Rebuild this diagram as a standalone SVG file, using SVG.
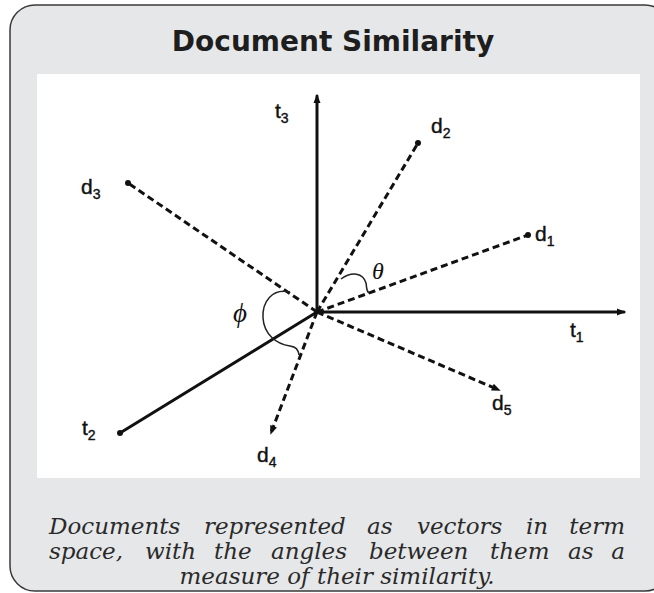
<svg xmlns="http://www.w3.org/2000/svg" width="654" height="593" viewBox="0 0 654 593">
<defs>
<style>
.card{fill:#e6e7e9;stroke:#3a3a3a;stroke-width:1.5}
.title{font-family:"DejaVu Sans",sans-serif;font-weight:bold;font-size:28px;fill:#1e1e1e;text-anchor:middle}
.cap{font-family:"DejaVu Serif",serif;font-style:italic;font-size:23px;fill:#2a2a2a}
.axis{stroke:#111;stroke-width:3;fill:none;stroke-linecap:round}
.dash{stroke:#111;stroke-width:3;fill:none;stroke-dasharray:7 4}
.arc{stroke:#222;stroke-width:1.5;fill:none}
.lbl{font-family:"Liberation Sans",Arial,sans-serif;font-size:21px;fill:#111;stroke:#111;stroke-width:0.4}
.sub{font-size:14px}
.ang{font-family:"Liberation Serif",serif;font-style:italic;font-size:24px;fill:#111}
</style>
<marker id="ah" viewBox="0 0 10 10" refX="8" refY="5" markerWidth="3" markerHeight="3" orient="auto" markerUnits="strokeWidth">
<path d="M0,1 L10,5 L0,9 z" fill="#111"/>
</marker>
<marker id="dot" viewBox="0 0 10 10" refX="5" refY="5" markerWidth="2" markerHeight="2" markerUnits="strokeWidth">
<circle cx="5" cy="5" r="5" fill="#111"/>
</marker>
</defs>
<rect class="card" x="10" y="5" width="660" height="586" rx="25"/>
<text class="title" x="333" y="51">Document Similarity</text>
<rect x="37" y="74" width="603" height="404" fill="#ffffff"/>
<g id="connectors">
<line class="axis" x1="317" y1="312" x2="317" y2="96" marker-end="url(#ah)"/>
<line class="axis" x1="317" y1="312" x2="624" y2="312" marker-end="url(#ah)"/>
<line class="axis" x1="317" y1="312" x2="120" y2="433" marker-end="url(#dot)"/>
<line class="dash" x1="317" y1="312" x2="528" y2="235" marker-end="url(#dot)"/>
<line class="dash" x1="317" y1="312" x2="418" y2="143" marker-end="url(#dot)"/>
<line class="dash" x1="317" y1="312" x2="128" y2="183" marker-end="url(#dot)"/>
<line class="dash" x1="317" y1="312" x2="271" y2="433" marker-end="url(#ah)"/>
<line class="dash" x1="317" y1="312" x2="499" y2="390" marker-end="url(#ah)"/>
<path class="arc" d="M341,279 C352,271 363,273 366,283 C367,288 366,291 369,293"/>
<path class="arc" d="M290,292 C272,288 262,302 263,318 C264,334 276,344 290,346 C296,347 298,349 299,355"/>
</g>
<g id="t3"><text class="lbl" x="275" y="118">t<tspan class="sub" dy="5">3</tspan></text></g>
<g id="t1"><text class="lbl" x="570" y="337">t<tspan class="sub" dy="5">1</tspan></text></g>
<g id="t2"><text class="lbl" x="82" y="435">t<tspan class="sub" dy="5">2</tspan></text></g>
<g id="d1"><text class="lbl" x="535" y="241">d<tspan class="sub" dy="5">1</tspan></text></g>
<g id="d2"><text class="lbl" x="431" y="133">d<tspan class="sub" dy="5">2</tspan></text></g>
<g id="d3"><text class="lbl" x="81" y="194">d<tspan class="sub" dy="5">3</tspan></text></g>
<g id="d4"><text class="lbl" x="257" y="462">d<tspan class="sub" dy="5">4</tspan></text></g>
<g id="d5"><text class="lbl" x="492" y="410">d<tspan class="sub" dy="5">5</tspan></text></g>
<g id="theta"><text class="ang" x="372" y="279">θ</text></g>
<g id="phi"><text class="ang" x="233" y="322" style="font-size:27px">ϕ</text></g>
<g id="caption">
<text class="cap" y="534"><tspan x="49">Documents</tspan><tspan x="204">represented</tspan><tspan x="367">as</tspan><tspan x="417">vectors</tspan><tspan x="526">in</tspan><tspan x="625" text-anchor="end">term</tspan></text>
<text class="cap" y="559"><tspan x="49">space,</tspan><tspan x="145">with</tspan><tspan x="214">the</tspan><tspan x="271">angles</tspan><tspan x="369">between</tspan><tspan x="490">them</tspan><tspan x="568">as</tspan><tspan x="625" text-anchor="end">a</tspan></text>
<text class="cap" y="584" x="337" text-anchor="middle">measure of their similarity.</text>
</g>
</svg>
